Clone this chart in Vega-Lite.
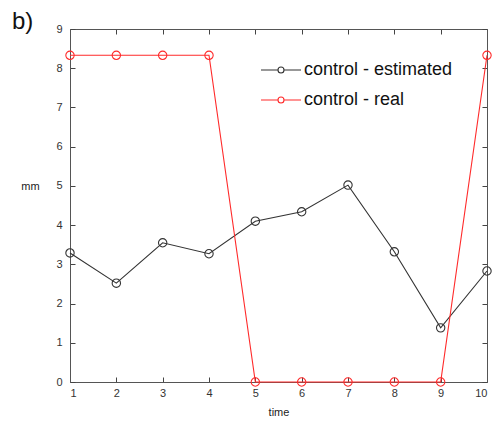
{
  "$schema": "https://vega.github.io/schema/vega-lite/v6.json",
  "width": 417,
  "height": 353,
  "autosize": "none",
  "padding": {"left": 70, "top": 29, "right": 11, "bottom": 43},
  "background": "white",
  "title": {"text": "b)", "anchor": "start", "frame": "group", "dx": -58, "dy": 26, "fontSize": 24, "font": "Liberation Sans", "fontWeight": "normal", "color": "#111", "baseline": "alphabetic", "offset": -4},
  "config": {"view": {"stroke": null}, "axis": {"labelFont": "Liberation Sans", "titleFont": "Liberation Sans", "labelFontSize": 11, "titleFontSize": 11, "labelColor": "#333", "titleColor": "#222", "domainColor": "#555", "tickColor": "#444", "tickWidth": 1, "ticks": true, "grid": false, "titleFontWeight": "normal"}},
  "data": {"values": [
    {"time": 1, "mm": 3.29, "series": "control - estimated"},
    {"time": 2, "mm": 2.52, "series": "control - estimated"},
    {"time": 3, "mm": 3.55, "series": "control - estimated"},
    {"time": 4, "mm": 3.27, "series": "control - estimated"},
    {"time": 5, "mm": 4.1, "series": "control - estimated"},
    {"time": 6, "mm": 4.34, "series": "control - estimated"},
    {"time": 7, "mm": 5.02, "series": "control - estimated"},
    {"time": 8, "mm": 3.32, "series": "control - estimated"},
    {"time": 9, "mm": 1.38, "series": "control - estimated"},
    {"time": 10, "mm": 2.83, "series": "control - estimated"},
    {"time": 1, "mm": 8.33, "series": "control - real"},
    {"time": 2, "mm": 8.33, "series": "control - real"},
    {"time": 3, "mm": 8.33, "series": "control - real"},
    {"time": 4, "mm": 8.33, "series": "control - real"},
    {"time": 5, "mm": 0, "series": "control - real"},
    {"time": 6, "mm": 0, "series": "control - real"},
    {"time": 7, "mm": 0, "series": "control - real"},
    {"time": 8, "mm": 0, "series": "control - real"},
    {"time": 9, "mm": 0, "series": "control - real"},
    {"time": 10, "mm": 8.33, "series": "control - real"}
  ]},
  "layer": [
    {
      "mark": {"type": "line", "strokeWidth": 1.1, "point": {"filled": false, "size": 70, "strokeWidth": 1.1}},
      "encoding": {
        "x": {"field": "time", "type": "quantitative", "scale": {"domain": [1, 10], "nice": false, "zero": false}, "axis": {"orient": "bottom", "values": [1,2,3,4,5,6,7,8,9,10], "tickSize": -5, "labelPadding": 10, "title": "time", "titlePadding": 8}},
        "y": {"field": "mm", "type": "quantitative", "scale": {"domain": [0, 9], "nice": false}, "axis": {"orient": "left", "values": [0,1,2,3,4,5,6,7,8,9], "tickSize": -5, "labelPadding": 13, "title": "mm", "titleAngle": 0, "titleX": -40, "titleY": 157, "titleAlign": "center", "titleBaseline": "middle"}},
        "color": {"field": "series", "type": "nominal", "scale": {"domain": ["control - estimated", "control - real"], "range": ["#333333", "#ff2a2a"]},
          "legend": {"title": null, "orient": "none", "legendX": 190, "legendY": 20, "symbolType": "M-1,0H-0.15M0.15,0H1M-0.15,0A0.15,0.15 0 1,0 0.15,0A0.15,0.15 0 1,0 -0.15,0", "symbolSize": 1600, "symbolStrokeWidth": 1.1, "symbolFillColor": "transparent", "labelFont": "Liberation Sans", "labelFontSize": 18, "labelColor": "#111", "labelOffset": 2, "rowPadding": -21}}
      }
    },
    {
      "mark": {"type": "line", "opacity": 0},
      "encoding": {
        "x": {"field": "time", "type": "quantitative", "scale": {"domain": [1, 10], "nice": false, "zero": false}, "axis": {"orient": "top", "values": [1,2,3,4,5,6,7,8,9,10], "tickSize": -5, "labels": false, "title": null}},
        "y": {"field": "mm", "type": "quantitative", "scale": {"domain": [0, 9], "nice": false}, "axis": {"orient": "right", "values": [0,1,2,3,4,5,6,7,8,9], "tickSize": -5, "labels": false, "title": null}},
        "detail": {"field": "series"}
      }
    }
  ],
  "resolve": {"scale": {"x": "independent", "y": "independent"}}
}
